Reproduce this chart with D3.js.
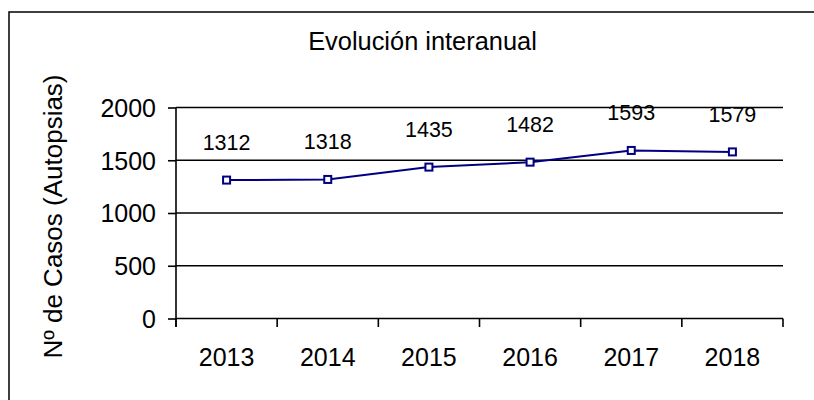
<!DOCTYPE html>
<html><head><meta charset="utf-8">
<script src="https://cdn.jsdelivr.net/npm/d3@7"></script>
<style>html,body{margin:0;padding:0;background:#fff;overflow:hidden}</style>
</head><body>
<svg id="c" width="814" height="400"></svg>
<script>
const years = ["2013","2014","2015","2016","2017","2018"];
const cases = [1312,1318,1435,1482,1593,1579];
const yTicks = [0,500,1000,1500,2000];
const title = "Evolución interanual";
const yTitle = "Nº de Casos (Autopsias)";

const font = "'Liberation Sans', Arial, sans-serif";
const svg = d3.select("#c");
const L = 176, R = 783, T = 107.5, B = 318.5;

// outer frame (only top and left edges are visible in the window)
svg.append("path").attr("d","M9,400 L9,12 L814,12")
  .attr("fill","none").attr("stroke","#000").attr("stroke-width",1.5);

const x = d3.scaleBand().domain(years).range([L,R]).padding(0);
const y = d3.scaleLinear().domain([0,2000]).range([B,T]);

// gridlines
svg.append("g").selectAll("line").data(yTicks.filter(d=>d>0)).join("line")
  .attr("x1",L).attr("x2",R).attr("y1",d=>y(d)).attr("y2",d=>y(d))
  .attr("stroke","#000").attr("stroke-width",1.6);

// y axis
const ya = svg.append("g").attr("transform",`translate(${L},0)`)
  .call(d3.axisLeft(y).tickValues(yTicks).tickSize(8).tickPadding(12).tickFormat(d3.format("d")));
ya.select(".domain").remove();
ya.selectAll(".tick line").attr("stroke","#000").attr("stroke-width",1.6);
ya.selectAll("text").attr("font-family",font).attr("font-size",25).attr("fill","#000").attr("dy","0.35em");
svg.append("line").attr("x1",L).attr("x2",L).attr("y1",T).attr("y2",B+8.5)
  .attr("stroke","#000").attr("stroke-width",1.6);

// x axis
svg.append("line").attr("x1",L).attr("x2",R).attr("y1",B).attr("y2",B)
  .attr("stroke","#000").attr("stroke-width",1.6);
const bounds = years.map(d=>x(d)).concat([R]);
svg.append("g").selectAll("line").data(bounds).join("line")
  .attr("x1",d=>d).attr("x2",d=>d).attr("y1",B).attr("y2",B+8.5)
  .attr("stroke","#000").attr("stroke-width",1.6);
svg.append("g").selectAll("text").data(years).join("text")
  .attr("x",d=>x(d)+x.bandwidth()/2).attr("y",366)
  .attr("text-anchor","middle").attr("font-family",font).attr("font-size",25).attr("fill","#000")
  .text(d=>d);

// line
const cx = d=>x(d)+x.bandwidth()/2;
const pts = years.map((d,i)=>[cx(d), y(cases[i])]);
svg.append("path").attr("d",d3.line()(pts)).attr("fill","none")
  .attr("stroke","#000080").attr("stroke-width",2);
svg.append("g").selectAll("rect").data(pts).join("rect")
  .attr("x",d=>d[0]-3.5).attr("y",d=>d[1]-3.5).attr("width",7).attr("height",7)
  .attr("fill","#fff").attr("stroke","#000080").attr("stroke-width",2);

// data labels
svg.append("g").selectAll("text").data(cases).join("text")
  .attr("x",(d,i)=>cx(years[i])).attr("y",d=>y(d)-30)
  .attr("text-anchor","middle").attr("font-family",font).attr("font-size",21.5).attr("fill","#000")
  .text(d=>d);

// title
svg.append("text").attr("x",422.5).attr("y",50).attr("text-anchor","middle")
  .attr("font-family",font).attr("font-size",25.4).attr("fill","#000").text(title);

// y title
svg.append("text").attr("transform","translate(62,216.5) rotate(-90)")
  .attr("text-anchor","middle").attr("font-family",font).attr("font-size",26).attr("fill","#000")
  .text(yTitle);
</script>
</body></html>
